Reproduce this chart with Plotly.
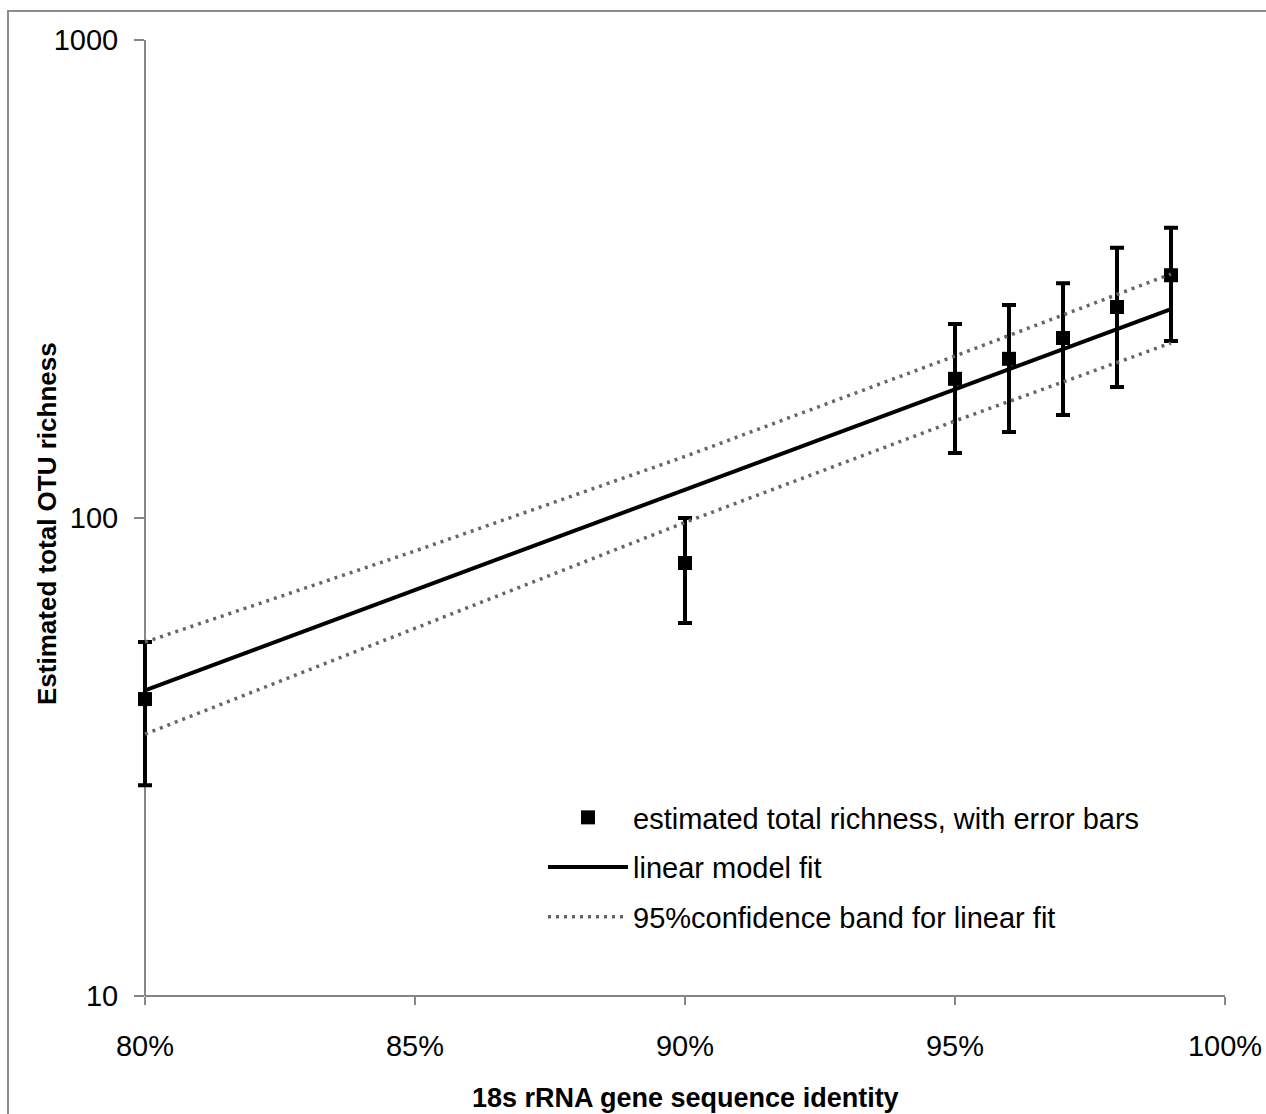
import plotly.graph_objects as go

# ---- data ----
identity = [0.80, 0.90, 0.95, 0.96, 0.97, 0.98, 0.99]
richness = [41.8, 80.5, 195.5, 215.3, 238.0, 276.3, 322.0]
rich_upper = [55.0, 100.0, 254.7, 279.0, 310.0, 367.6, 404.6]
rich_lower = [27.6, 60.3, 136.8, 151.4, 164.2, 187.9, 234.6]

fit_x = [0.80, 0.99]
fit_y = [43.6, 273.5]

band_x = [0.80, 0.85, 0.90, 0.95, 0.99]
band_upper = [55.0, 85.3, 134.5, 218.2, 323.9]
band_lower = [35.3, 58.9, 97.9, 159.6, 232.3]

x_tickvals = [0.80, 0.85, 0.90, 0.95, 1.00]
y_tickvals = [10, 100, 1000]

err_plus = [u - v for u, v in zip(rich_upper, richness)]
err_minus = [v - l for v, l in zip(richness, rich_lower)]

W, H = 1266, 1114
AXIS_X = 145            # pixel where the y axis (80%) sits
PAD = 15                # extra room left of the y axis so error bars are not clipped
ML, MR, MT, MB = AXIS_X - PAD, 41, 40, 118
PW, PH = W - ML - MR, H - MT - MB
X_MIN, X_MAX = 0.80, 1.00
X_LO = X_MIN - PAD * (X_MAX - X_MIN) / (W - MR - AXIS_X)

FONT = "Liberation Sans, Arial, sans-serif"
BAND_COLOR = "#666666"
BAND_DASH = "3px,5px"
AXIS_COLOR = "#868686"

fig = go.Figure()

fig.add_trace(go.Scatter(
    x=identity, y=richness, mode="markers",
    name="estimated total richness, with error bars",
    legendgroup="a", cliponaxis=False,
    marker=dict(symbol="square", size=14, color="black"),
    error_y=dict(type="data", array=err_plus, arrayminus=err_minus,
                 color="black", thickness=4, width=7),
))
fig.add_trace(go.Scatter(
    x=fit_x, y=fit_y, mode="lines", name="linear model fit",
    legendgroup="b", cliponaxis=False,
    line=dict(color="black", width=4),
))
fig.add_trace(go.Scatter(
    x=band_x, y=band_upper, mode="lines",
    name="95%confidence band for linear fit",
    legendgroup="c", cliponaxis=False,
    line=dict(color=BAND_COLOR, width=3.5, dash=BAND_DASH),
))
fig.add_trace(go.Scatter(
    x=band_x, y=band_lower, mode="lines", showlegend=False,
    legendgroup="c", cliponaxis=False,
    line=dict(color=BAND_COLOR, width=3.5, dash=BAND_DASH),
))


def px_to_paper_x(px):
    return (px - ML) / PW


def px_to_paper_y(py):
    return (H - MB - py) / PH


# outer frame (top and left edges visible)
fig.add_shape(type="rect", xref="paper", yref="paper",
              x0=px_to_paper_x(8), x1=px_to_paper_x(W + 20),
              y0=px_to_paper_y(H + 20), y1=px_to_paper_y(11),
              line=dict(color="#8c8c8c", width=2), fillcolor="rgba(0,0,0,0)",
              layer="below")

# x axis baseline from 80% to 100%
fig.add_shape(type="line", xref="x", yref="paper",
              x0=X_MIN, x1=X_MAX, y0=0, y1=0,
              line=dict(color=AXIS_COLOR, width=2), layer="below")

# axis titles
fig.add_annotation(
    text="<b>Estimated total OTU richness</b>",
    xref="paper", yref="paper",
    x=px_to_paper_x(47), y=px_to_paper_y(524),
    xanchor="center", yanchor="middle", textangle=-90, showarrow=False,
    font=dict(family=FONT, size=26, color="black"),
)
fig.add_annotation(
    text="<b>18s rRNA gene sequence identity</b>",
    xref="paper", yref="paper",
    x=px_to_paper_x(685), y=px_to_paper_y(1098),
    xanchor="center", yanchor="middle", showarrow=False,
    font=dict(family=FONT, size=27, color="black"),
)

fig.update_layout(
    width=W, height=H,
    margin=dict(l=ML, r=MR, t=MT, b=MB, autoexpand=False),
    paper_bgcolor="white", plot_bgcolor="white",
    font=dict(family=FONT, color="black"),
    showlegend=True,
    legend=dict(
        x=px_to_paper_x(543), y=px_to_paper_y(792),
        xanchor="left", yanchor="top",
        bgcolor="rgba(0,0,0,0)",
        font=dict(family=FONT, size=29, color="black"),
        itemwidth=80,
        traceorder="grouped",
        tracegroupgap=9,
        itemclick=False,
    ),
    xaxis=dict(
        range=[X_LO, X_MAX],
        tickvals=x_tickvals, tickformat=".0%",
        showgrid=False, zeroline=False, layer="below traces",
        showline=False,
        ticks="outside", ticklen=8, tickcolor=AXIS_COLOR, tickwidth=2,
        tickfont=dict(family=FONT, size=29, color="black"),
        ticklabelstandoff=16,
    ),
    yaxis=dict(
        type="log", range=[1, 3],
        anchor="free", position=px_to_paper_x(AXIS_X),
        tickvals=y_tickvals, ticktext=[str(v) for v in y_tickvals],
        showgrid=False, zeroline=False, layer="below traces",
        showline=True, linecolor=AXIS_COLOR, linewidth=2,
        ticks="outside", ticklen=10, tickcolor=AXIS_COLOR, tickwidth=2,
        tickfont=dict(family=FONT, size=29, color="black"),
        ticklabelstandoff=10,
    ),
)

fig.write_html(
    "out.html",
    config={"displayModeBar": False},
    post_script="document.body.style.margin='0';document.body.style.overflow='hidden';",
)
